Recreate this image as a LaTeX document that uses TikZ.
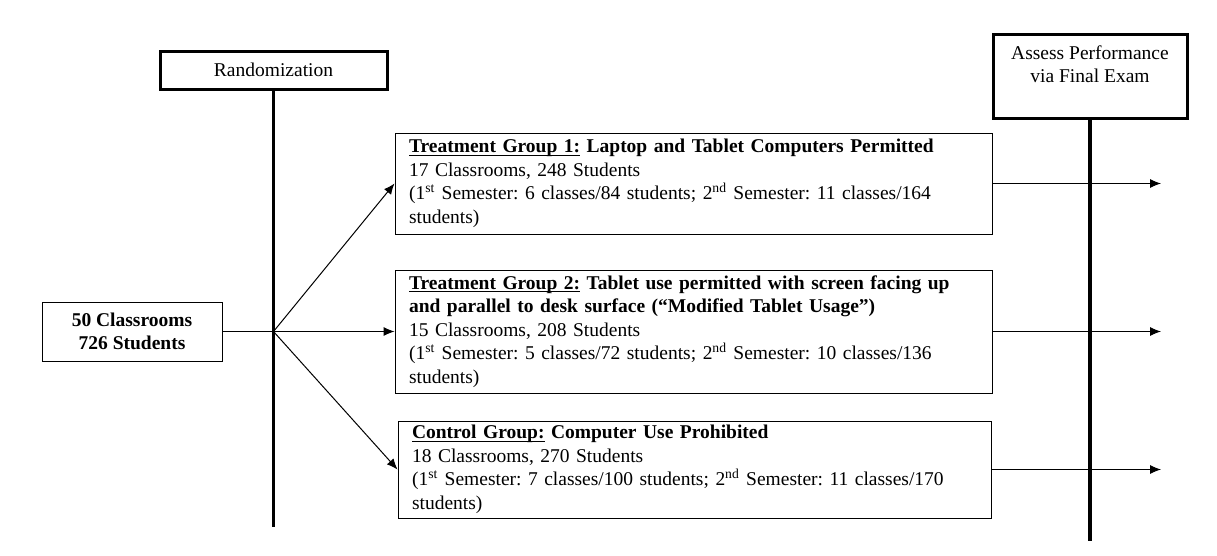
\documentclass[tikz,border=0pt]{standalone}
\usepackage{fontspec}
\setmainfont{Liberation Serif}
\frenchspacing
\newcommand\grpul[1]{\underline{\raisebox{0pt}[\height][0pt]{#1}}}
\usetikzlibrary{arrows.meta}
\begin{document}
\begin{tikzpicture}[x=0.6pt,y=-0.6pt,
  txt/.style={font=\fontsize{11.7}{14.1}\selectfont},
  headbox/.style={txt,draw,line width=1.8pt,align=center,inner sep=0pt},
  grpbox/.style={txt,draw,line width=0.6pt,align=left,inner xsep=8.4pt,inner ysep=0pt},
  spine/.style={line width=2pt},
  arr/.style={line width=0.6pt,-{Latex[length=6.5pt,width=5.4pt]}}]
\useasboundingbox (0,0) rectangle (1217,555);
% headers on top of the two time lines
\node[headbox,minimum width=136.2pt,minimum height=22.8pt] (rand) at (273.5,70) {Randomization};
\node[headbox,minimum width=116.4pt,minimum height=50.4pt] (assess) at (1090,76) {Assess Performance\\via Final Exam\\\mbox{}};
\draw[spine] (rand.south) -- (rand.south |- 0,527);
\draw[spine] (assess.south) -- (assess.south |- 0,541);
% sample
\node[txt,draw,line width=0.6pt,align=center,font=\fontsize{11.7}{14.1}\selectfont\bfseries,minimum width=108pt,minimum height=35.4pt,inner sep=0pt] (cls) at (132,331.5) {50 Classrooms\\726 Students};
% groups
\node[grpbox,text width=341.4pt,minimum height=60.6pt] (tg1) at (693.5,183.5) {\textbf{\grpul{Treatment Group 1:} Laptop and Tablet Computers Permitted}\\17 Classrooms, 248 Students\\(1\textsuperscript{st} Semester: 6 classes/84 students; 2\textsuperscript{nd} Semester: 11 classes/164\\students)};
\node[grpbox,text width=341.4pt,minimum height=73.8pt] (tg2) at (693.5,331.5) {\textbf{\grpul{Treatment Group 2:} Tablet use permitted with screen facing up}\\\textbf{and parallel to desk surface (``Modified Tablet Usage'')}\\15 Classrooms, 208 Students\\(1\textsuperscript{st} Semester: 5 classes/72 students; 2\textsuperscript{nd} Semester: 10 classes/136\\students)};
\node[grpbox,text width=339pt,minimum height=58.2pt] (ctrl) at (694.5,469.5) {\textbf{\grpul{Control Group:} Computer Use Prohibited}\\18 Classrooms, 270 Students\\(1\textsuperscript{st} Semester: 7 classes/100 students; 2\textsuperscript{nd} Semester: 11 classes/170\\students)};
% connectors
\coordinate (jn) at (rand.south |- cls.east);
\coordinate (outx) at (1161,0);
\draw[arr] (cls.east) -- (tg2.west);
\draw[arr] (jn) -- (tg1.west);
\draw[arr] (jn) -- (ctrl.west);
\foreach \g in {tg1,tg2,ctrl}
  \draw[arr] (\g.east) -- (\g.east -| outx);
\end{tikzpicture}
\end{document}
